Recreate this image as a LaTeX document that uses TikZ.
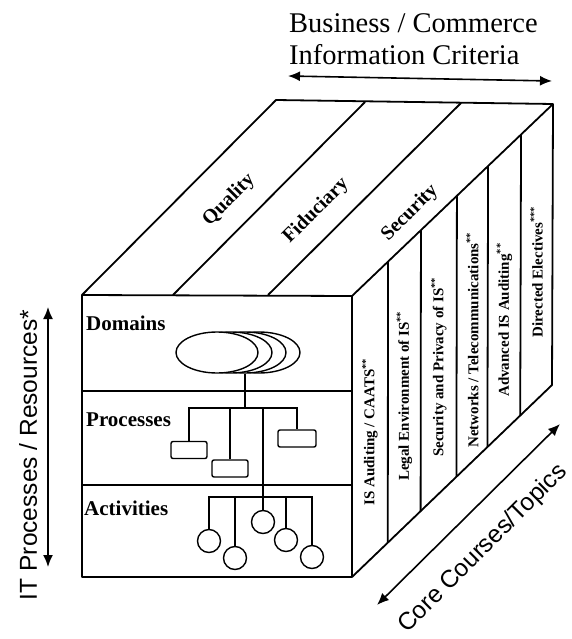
\documentclass[tikz,border=0pt]{standalone}
\usepackage{fontspec}
\setmainfont{Liberation Serif}
\setsansfont{Liberation Sans}
\usepackage{tikz}
\usetikzlibrary{arrows.meta}
\usetikzlibrary{calc}
\usetikzlibrary{shapes.geometric}
\tikzset{cubeline/.style = {line width = 1.8pt, line join = round}}
\tikzset{tree/.style = {line width = 1.4pt}}
\tikzset{twoway/.style = {line width = 1.6pt, {Latex[length=12pt, width=10pt]}-{Latex[length=12pt, width=10pt]}}}
\tikzset{dom/.style = {draw, fill = white, ellipse, line width = 1.4pt,
                       minimum width = 82pt, minimum height = 41pt, inner sep = 0}}
\tikzset{proc/.style = {draw, rounded corners = 2pt, line width = 1.4pt,
                        minimum width = 36pt, minimum height = 17pt, inner sep = 0}}
\tikzset{act/.style = {draw, circle, line width = 1.4pt, minimum size = 23pt, inner sep = 0}}
\tikzset{tier/.style = {anchor = west, inner sep = 0, font = \bfseries\fontsize{21}{21}\selectfont}}
\tikzset{band/.style = {rotate = 45, inner sep = 0, font = \bfseries\fontsize{20}{20}\selectfont}}
\tikzset{course/.style = {rotate = 90, inner sep = 0, font = \bfseries\fontsize{15}{15}\selectfont}}
\tikzset{axislabel/.style = {inner sep = 0, font = \sffamily\fontsize{24.5}{24.5}\selectfont}}
\tikzset{headline/.style = {anchor = base west, inner sep = 0, font = \fontsize{28.5}{28.5}\selectfont}}

\begin{document}
\begin{tikzpicture}[x = 1pt, y = -1pt]
      \useasboundingbox (0, 0) rectangle (571, 639);
      \coordinate (ftl) at (82, 295);
      \coordinate (ftr) at (352, 296);
      \coordinate (fbl) at (82, 577);
      \coordinate (fbr) at (352, 577);
      \coordinate (btl) at (276, 100);
      \coordinate (btr) at (553, 104);
      \coordinate (bbr) at (552, 385);

      \draw [cubeline] (fbr) -- (fbl) -- (ftl) -- (btl) -- (btr) -- (bbr) -- (fbr) -- (ftr) -- (ftl);
      \draw [cubeline] (ftr) -- (btr);
      \draw [cubeline] (82, 391) -- (352, 391);
      \draw [cubeline] (82, 485) -- (352, 485);
      \draw [cubeline] (173, 295) -- (365, 102);
      \draw [cubeline] (268, 295) -- (461, 103);
      \foreach \t in {0.179, 0.343, 0.522, 0.677, 0.841} {
        \draw [cubeline] ($(ftr)!\t!(btr)$) -- ($(fbr)!\t!(bbr)$);
      }

      \node [band] (quality) at (229, 200) {Quality};
      \node [band] (fiduciary) at (316, 211) {Fiduciary};
      \node [band] (security) at (410, 213) {Security};

      \node [course] (audit) at (370, 432) {IS Auditing / CAATS\textsuperscript{**}};
      \node [course] (legal) at (404.5, 396) {Legal Environment of IS\textsuperscript{**}};
      \node [course] (privacy) at (439, 367) {Security and Privacy of IS\textsuperscript{**}};
      \node [course] (networks) at (472.5, 340) {Networks / Telecommunications\textsuperscript{**}};
      \node [course] (advanced) at (504.5, 320) {Advanced IS Auditing\textsuperscript{**}};
      \node [course] (electives) at (536.5, 272) {Directed Electives\textsuperscript{***}};

      \node [tier] (domains) at (86, 323) {Domains};
      \node [tier] (processes) at (86, 420) {Processes};
      \node [tier] (activities) at (84, 508) {Activities};

      \foreach \n/\x in {d4/259, d3/245, d2/231, d1/217} {
        \node [dom] (\n) at (\x, 352.5) {};
      }
      \node [proc] (p1) at (189, 450) {};
      \node [proc] (p2) at (230, 468.5) {};
      \node [proc, minimum width = 38pt] (p3) at (297, 438.5) {};
      \foreach \n/\x/\y in {a1/209/541, a2/235/558, a3/263/522, a4/286/540, a5/312/557} {
        \node [act] (\n) at (\x, \y) {};
      }
      \coordinate (pbar) at (0, 408);
      \coordinate (abar) at (0, 497);
      \draw [tree] (d3.south) -- (d3.south |- pbar);
      \draw [tree] (p1.north) -- (p1.north |- pbar) -- (p3.north |- pbar) -- (p3.north);
      \draw [tree] (p2.north) -- (p2.north |- pbar);
      \draw [tree] (a3.north |- pbar) -- (a3.north);
      \draw [tree] (a1.north) -- (a1.north |- abar) -- (a5.north |- abar) -- (a5.north);
      \foreach \n in {a2, a4} {
        \draw [tree] (\n.north) -- (\n.north |- abar);
      }

      \coordinate (bizL) at (288, 76);
      \coordinate (bizR) at (552, 81);
      \draw [twoway] (bizL) -- (bizR);
      \node [headline] (business) at (289, 33) {Business / Commerce};
      \node [headline] (criteria) at (289, 65) {Information Criteria};

      \coordinate (itTop) at (48, 307);
      \coordinate (itBot) at (48, 567);
      \draw [twoway] (itBot) -- (itTop);
      \node [axislabel, rotate = 90] (resources) at (28, 455) {IT Processes / Resources*};

      \coordinate (coreL) at (377, 605);
      \coordinate (coreR) at (560, 424);
      \draw [twoway] (coreL) -- (coreR);
      \node [axislabel, rotate = 45] (courses) at (483, 549) {Core Courses/Topics};
\end{tikzpicture}
\end{document}
